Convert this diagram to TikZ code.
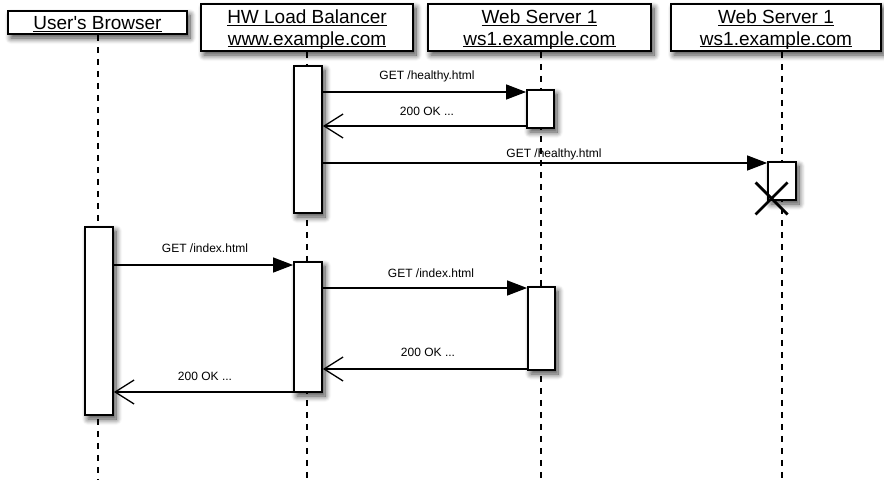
\documentclass[tikz,border=0pt]{standalone}
\usepackage{fontspec}
\setmainfont{Liberation Sans}
\usetikzlibrary{arrows.meta,calc,shadows.blur}
\newcommand\myul[1]{\setbox0\hbox{#1}\rlap{\rule[-2pt]{\wd0}{1pt}}\box0}
\begin{document}
\begin{tikzpicture}[x=1pt,y=-1pt,
  shad/.style={blur shadow={shadow xshift=3pt,shadow yshift=-4pt,shadow blur radius=6pt,shadow blur steps=10,shadow opacity=75}},
  hdr/.style={draw,line width=1.8pt,fill=white,shad,inner sep=0pt},
  htxt/.style={anchor=base,inner sep=0pt,font=\fontsize{19}{23}\selectfont},
  act/.style={draw,line width=1.8pt,fill=white,shad,inner sep=0pt},
  life/.style={line width=1.3pt,dash pattern=on 6pt off 6pt},
  call/.style={line width=1.3pt,-{Triangle[length=20pt,width=15pt]}},
  ret/.style={line width=1.3pt,-{Straight Barb[length=19pt,width=24pt,line width=1.3pt]}},
  lbl/.style={font=\fontsize{12}{14}\selectfont,inner sep=0pt}]
\useasboundingbox (0,0) rectangle (884,480);
% lifeline ends
\coordinate (e1) at (98,480);
\coordinate (e2) at (307,480);
\coordinate (e3) at (541,480);
\coordinate (e4) at (782,480);
% headers
\node[hdr,minimum width=179pt,minimum height=23pt] (h1) at (97.5,22.5) {};
\node[hdr,minimum width=212pt,minimum height=47pt] (h2) at (307,27.5) {};
\node[hdr,minimum width=223pt,minimum height=47pt] (h3) at (539.5,27.5) {};
\node[hdr,minimum width=210pt,minimum height=47pt] (h4) at (776,27.5) {};
\node[htxt] (t1) at (97.5,29.8) {\myul{User\textquotesingle s Browser}};
\node[htxt] (t2a) at (307,23.5) {\myul{HW Load Balancer}};
\node[htxt] (t2b) at (307,45) {\myul{www.example.com}};
\node[htxt] (t3a) at (539.5,23.5) {\myul{Web Server 1}};
\node[htxt] (t3b) at (539.5,45) {\myul{ws1.example.com}};
\node[htxt] (t4a) at (776,23.5) {\myul{Web Server 1}};
\node[htxt] (t4b) at (776,45) {\myul{ws1.example.com}};
% lifelines
\draw[life] (h1.south -| e1) -- (e1);
\draw[life] (h2.south -| e2) -- (e2);
\draw[life] (h3.south -| e3) -- (e3);
\draw[life] (h4.south -| e4) -- (e4);
% activations
\node[act,minimum width=28pt,minimum height=147pt] (lb1) at (308,139.5) {};
\node[act,minimum width=27pt,minimum height=38pt] (ws1a) at (540.5,109) {};
\node[act,minimum width=28pt,minimum height=38pt] (ws2) at (782,181) {};
\node[act,minimum width=28pt,minimum height=188pt] (br) at (99,321) {};
\node[act,minimum width=28pt,minimum height=130pt] (lb2) at (308,327) {};
\node[act,minimum width=27pt,minimum height=83pt] (ws1b) at (541.5,328.5) {};
% destruction
\coordinate (xc) at ($(ws2.south west)+(4.5,-2.5)$);
\draw[line width=2.8pt] ($(xc)+(-16,-16)$) -- ($(xc)+(16,16)$);
\draw[line width=2.8pt] ($(xc)+(16,-16)$) -- ($(xc)+(-16,16)$);
% messages
\coordinate (y1) at (0,92);
\coordinate (y2) at (0,126);
\coordinate (y3) at (0,163);
\coordinate (y4) at (0,265);
\coordinate (y5) at (0,288);
\coordinate (y6) at (0,369);
\coordinate (y7) at (0,392);
\draw[call] (lb1.east |- y1) -- (ws1a.west |- y1);
\draw[ret] (ws1a.west |- y2) -- (lb1.east |- y2);
\draw[call] (lb1.east |- y3) -- (ws2.west |- y3);
\draw[call] (br.east |- y4) -- (lb2.west |- y4);
\draw[call] (lb2.east |- y5) -- (ws1b.west |- y5);
\draw[ret] (ws1b.west |- y6) -- (lb2.east |- y6);
\draw[ret] (lb2.west |- y7) -- (br.east |- y7);
% labels
\node[lbl] (l1) at (427,76) {GET /healthy.html};
\node[lbl] (l2) at (427,111) {200 OK ...};
\node[lbl] (l3) at (554,154) {GET /healthy.html};
\node[lbl] (l4) at (205,248) {GET /index.html};
\node[lbl] (l5) at (431,273) {GET /index.html};
\node[lbl] (l6) at (428,352) {200 OK ...};
\node[lbl] (l7) at (205,376) {200 OK ...};
\end{tikzpicture}
\end{document}
